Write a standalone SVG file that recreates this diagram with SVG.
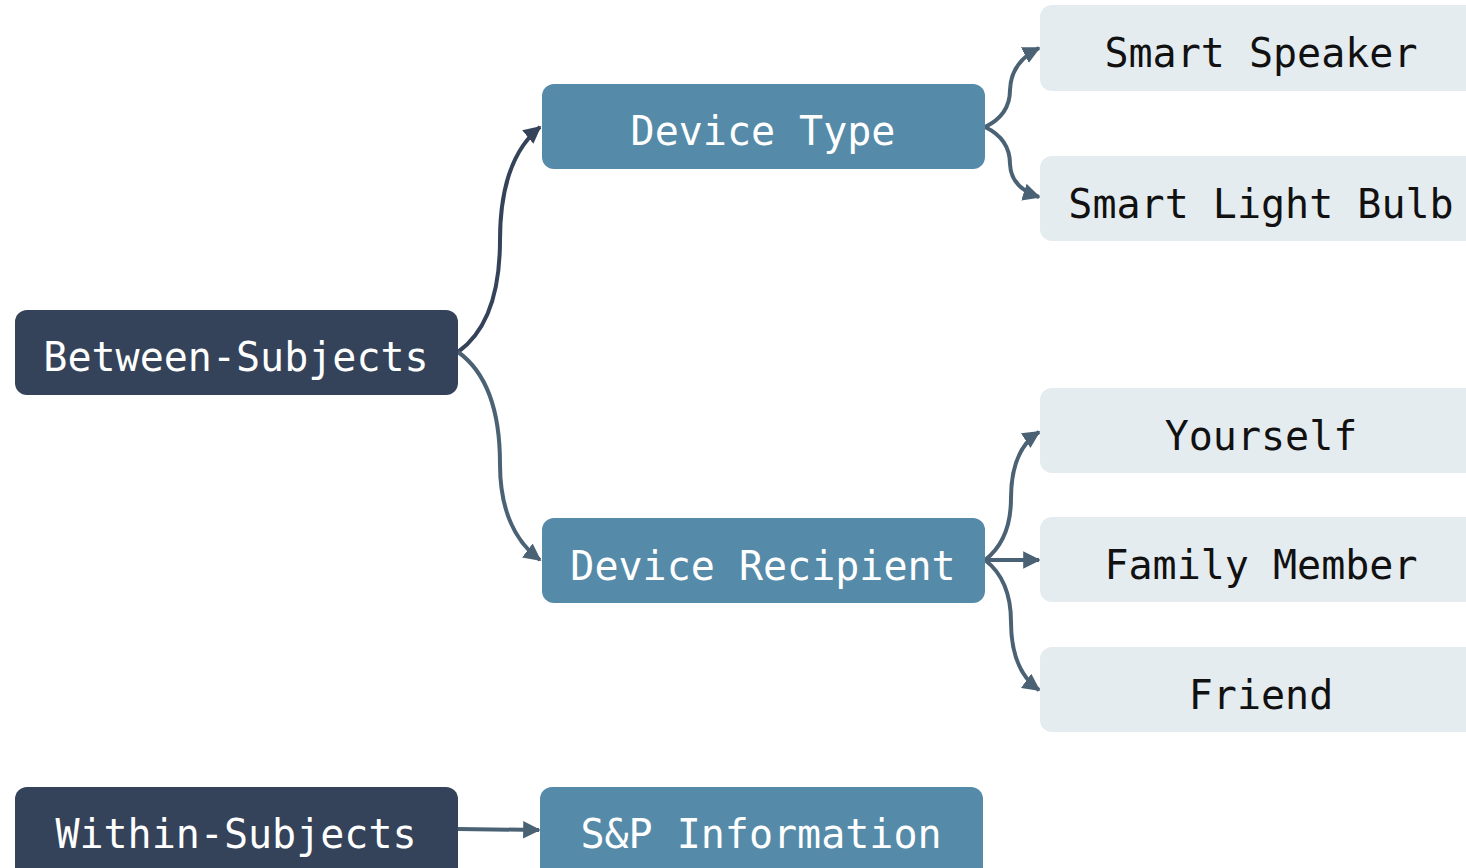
<svg xmlns="http://www.w3.org/2000/svg" width="1466" height="868" viewBox="0 0 1466 868">
  <style>
    text { font-family: "DejaVu Sans Mono", "Liberation Mono", monospace; font-size: 40px; text-anchor: middle; }
    .root rect { fill: #344359; }
    .mid rect { fill: #558ba8; }
    .leaf rect { fill: #e5ecf0; }
    .root text, .mid text { fill: #ffffff; }
    .leaf text { fill: #111111; }
    .edge { fill: none; stroke: #4a6274; stroke-width: 4; }
    .edge.dark { stroke: #344359; }
  </style>
  <defs>
    <marker id="arrow" viewBox="0 0 10 10" refX="9" refY="5" markerWidth="4.4" markerHeight="4.4" orient="auto" markerUnits="strokeWidth">
      <path d="M0,0 L10,5 L0,10 Z" fill="#4a6274"/>
    </marker>
    <marker id="arrowDark" viewBox="0 0 10 10" refX="9" refY="5" markerWidth="4.4" markerHeight="4.4" orient="auto" markerUnits="strokeWidth">
      <path d="M0,0 L10,5 L0,10 Z" fill="#344359"/>
    </marker>
  </defs>

  <g id="connectors">
    <path class="edge dark" d="M458,352 Q500,322 500,240 Q500,160 540,127" marker-end="url(#arrowDark)"/>
    <path class="edge" d="M458,352 Q500,382 500,464 Q500,530 540,560" marker-end="url(#arrow)"/>
    <path class="edge" d="M985,127 Q1010,115 1010,90 Q1011,62 1039,48" marker-end="url(#arrow)"/>
    <path class="edge" d="M985,127 Q1010,139 1010,164 Q1011,188 1039,197" marker-end="url(#arrow)"/>
    <path class="edge" d="M985,560 Q1011,540 1011,498 Q1011,450 1039,432" marker-end="url(#arrow)"/>
    <path class="edge" d="M985,560 L1039,560" marker-end="url(#arrow)"/>
    <path class="edge" d="M985,560 Q1011,580 1011,622 Q1011,670 1039,690" marker-end="url(#arrow)"/>
    <path class="edge" d="M458,829 L539,830" marker-end="url(#arrow)"/>
  </g>

  <g id="between-subjects" class="root">
    <rect x="15" y="310" width="443" height="85" rx="12"/>
    <text x="236" y="371">Between-Subjects</text>
  </g>
  <g id="device-type" class="mid">
    <rect x="542" y="84" width="443" height="85" rx="12"/>
    <text x="763" y="145">Device Type</text>
  </g>
  <g id="device-recipient" class="mid">
    <rect x="542" y="518" width="443" height="85" rx="12"/>
    <text x="763" y="580">Device Recipient</text>
  </g>
  <g id="smart-speaker" class="leaf">
    <rect x="1040" y="5" width="443" height="86" rx="12"/>
    <text x="1261" y="67">Smart Speaker</text>
  </g>
  <g id="smart-light-bulb" class="leaf">
    <rect x="1040" y="156" width="443" height="85" rx="12"/>
    <text x="1261" y="218">Smart Light Bulb</text>
  </g>
  <g id="yourself" class="leaf">
    <rect x="1040" y="388" width="443" height="85" rx="12"/>
    <text x="1261" y="450">Yourself</text>
  </g>
  <g id="family-member" class="leaf">
    <rect x="1040" y="517" width="443" height="85" rx="12"/>
    <text x="1261" y="579">Family Member</text>
  </g>
  <g id="friend" class="leaf">
    <rect x="1040" y="647" width="443" height="85" rx="12"/>
    <text x="1261" y="709">Friend</text>
  </g>
  <g id="within-subjects" class="root">
    <rect x="15" y="787" width="443" height="100" rx="12"/>
    <text x="236" y="848">Within-Subjects</text>
  </g>
  <g id="sp-information" class="mid">
    <rect x="540" y="787" width="443" height="100" rx="12"/>
    <text x="761" y="848">S&amp;P Information</text>
  </g>
</svg>
